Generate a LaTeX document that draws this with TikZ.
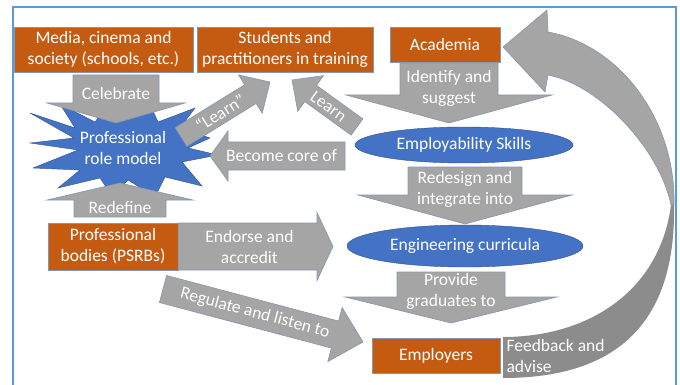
\documentclass[tikz,border=0pt]{standalone}
\usepackage{fontspec}
\setmainfont{Carlito}
\usetikzlibrary{calc,shapes.geometric}

\definecolor{boxorange}{HTML}{C55A11}
\definecolor{roleblue}{HTML}{4472C4}
\definecolor{ovaledge}{HTML}{2F528F}
\definecolor{arrowgrey}{HTML}{A5A5A5}
\definecolor{backgrey}{HTML}{8C8C8C}
\definecolor{edgeblue}{HTML}{8497B0}
\definecolor{frameblue}{HTML}{5B9BD5}

\tikzset{
  every node/.style={font=\fontsize{17.5}{21}\selectfont, text=white, align=center},
  orgbox/.style={draw=edgeblue, fill=boxorange, inner sep=0pt},
  ovalbox/.style={ellipse, draw=ovaledge, fill=roleblue, inner sep=0pt},
  rolestar/.style={draw=ovaledge, fill=roleblue, line join=miter},
  blockarr/.style={draw=edgeblue, line width=0.6pt, fill=arrowgrey, line join=miter},
}

% [text options]{from}{to}{shaft half width}{head half width}{head length}{text pos}{text}
\newcommand{\blockarrow}[8][]{%
  \path let \p1=(#2), \p2=(#3) in
    \pgfextra{\pgfmathsetmacro\arrang{atan2(\y2-\y1,\x2-\x1)}%
      \pgfmathsetmacro\arrlen{veclen(\x2-\x1,\y2-\y1)}%
      \global\let\arrang\arrang\global\let\arrlen\arrlen};
  \begin{scope}[shift={(#2)}, rotate=\arrang]
    \draw[blockarr] (0,#4) -- (\arrlen-#6,#4) -- (\arrlen-#6,#5) -- (\arrlen,0)
      -- (\arrlen-#6,-#5) -- (\arrlen-#6,-#4) -- (0,-#4) -- cycle;
  \end{scope}
  \node[#1] at ($(#2)!#7!(#3)$) {#8};
}

\begin{document}
\begin{tikzpicture}[x=1pt, y=-1pt]
  \useasboundingbox (0,0) rectangle (680,385);
  \draw[frameblue, line width=1.5pt] (13,7) rectangle (676,400);

  % role model star
  \draw[rolestar] (30,143) \foreach \pt in {(78,150),(33,168),(80,170),(58,188),(100,178),
      (112,196),(128,180),(155,197),(165,177),(202,186),(182,162),(218,155),(188,148),
      (210,138),(180,128),(195,108),(158,122),(150,104),(128,120),(110,102),(95,122),
      (60,104),(75,128),(30,113),(74,138)} { -- \pt } -- cycle;
  \node (role) at (123,148) {Professional\\role model};

  % feedback loop
  \fill[backgrey] (503,337) .. controls (590,337) and (660,290) .. (671,205)
    -- (674,205) .. controls (676,320) and (620,378) .. (503,378) -- cycle;
  \draw[blockarr] (674,205) .. controls (676,120) and (620,45) .. (548,32)
    -- (547,10) -- (503,47) -- (545,92) -- (548,75)
    .. controls (600,85) and (660,150) .. (671,205) -- cycle;
  \node[anchor=west, align=left] (fb) at (503,356) {Feedback and\\advise};

  \node[orgbox, minimum width=179, minimum height=45] (media) at (103.5,49.5) {Media, cinema and\\society (schools, etc.)};
  \node[orgbox, minimum width=176, minimum height=45] (students) at (285,49.5) {Students and\\practitioners in training};
  \node[orgbox, minimum width=110, minimum height=35] (acad) at (445,44.5) {Academia};
  \node[orgbox, minimum width=130, minimum height=47] (bodies) at (113,246.5) {Professional\\bodies (PSRBs)};
  \node[orgbox, minimum width=128, minimum height=35] (employers) at (436,355.5) {Employers};

  \coordinate (cel-a) at (116,75);   \coordinate (cel-b) at (116,123);
  \coordinate (red-a) at (120,217);  \coordinate (red-b) at (120,183);
  \coordinate (lq-a) at (181,137);   \coordinate (lq-b) at (270,82);
  \coordinate (ln-a) at (357,127);   \coordinate (ln-b) at (292,80);
  \coordinate (core-a) at (345,156); \coordinate (core-b) at (210,156);
  \coordinate (id-a) at (449,63);    \coordinate (id-b) at (449,123);
  \coordinate (rd-a) at (465,167);   \coordinate (rd-b) at (465,224);
  \coordinate (pg-a) at (451,272);   \coordinate (pg-b) at (451,323);
  \coordinate (end-b) at (333,246.5);
  \coordinate (reg-a) at (163,289);  \coordinate (reg-b) at (363,342);

  \blockarrow{cel-a}{cel-b}{43}{69}{20}{0.375}{Celebrate}
  \blockarrow{red-a}{red-b}{46}{73}{17}{0.29}{Redefine}
  \blockarrow[rotate=32]{lq-a}{lq-b}{11}{22.5}{23}{0.44}{``Learn''}
  \blockarrow[rotate=-36]{ln-a}{ln-b}{10}{22}{23}{0.44}{Learn}
  \blockarrow{core-a}{core-b}{14}{25}{18}{0.47}{Become core of}
  \blockarrow{id-a}{id-b}{49}{103}{28}{0.43}{Identify and\\suggest}
  \blockarrow{rd-a}{rd-b}{57}{107}{29}{0.40}{Redesign and\\integrate into}
  \blockarrow{pg-a}{pg-b}{54}{106}{26}{0.39}{Provide\\graduates to}
  \blockarrow{bodies.east}{end-b}{23.5}{34}{16}{0.46}{Endorse and\\accredit}
  \blockarrow[rotate=-15]{reg-a}{reg-b}{14}{28}{29}{0.46}{Regulate and listen to}

  \node[ovalbox, minimum width=218, minimum height=36] (skills) at (464,145) {Employability Skills};
  \node[ovalbox, minimum width=236, minimum height=42] (curric) at (465,246) {Engineering curricula};
\end{tikzpicture}
\end{document}
